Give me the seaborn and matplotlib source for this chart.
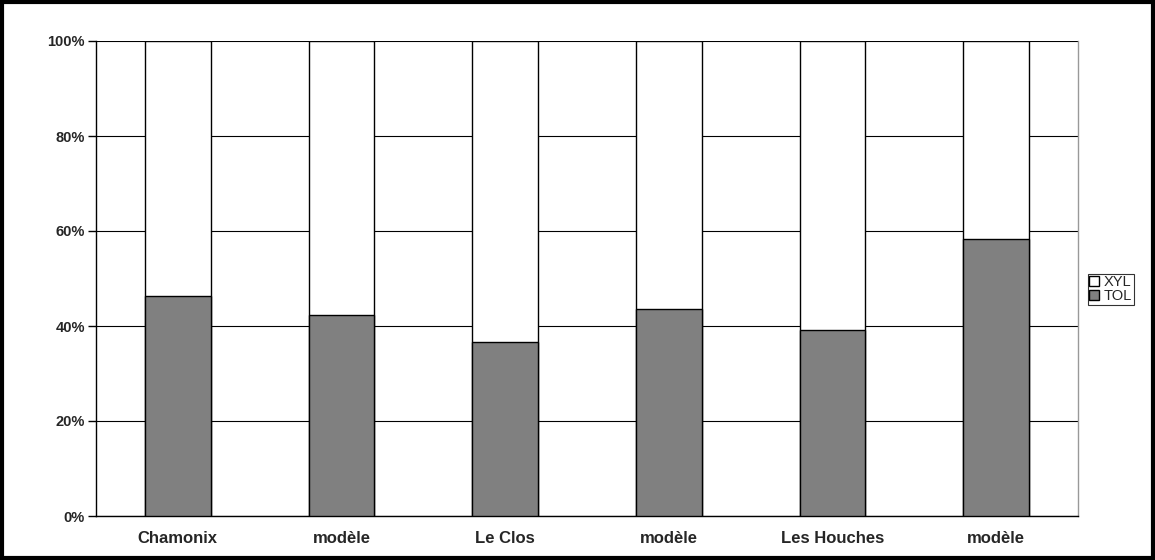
import matplotlib
matplotlib.use("Agg")
import matplotlib.pyplot as plt
import seaborn as sns
import pandas as pd
import numpy as np
from matplotlib.patches import Patch, Rectangle

categories = ["Chamonix", "modèle", "Le Clos", "modèle ", "Les Houches", "modèle  "]
tol = [46.3, 42.3, 36.7, 43.5, 39.2, 58.4]
xyl = [100 - v for v in tol]
ytick_labels = ["0%", "20%", "40%", "60%", "80%", "100%"]

sns.set_theme(style="white")
plt.rcParams['font.family'] = ['Liberation Sans', 'DejaVu Sans']

df = pd.DataFrame({"cat": categories, "TOL": tol, "XYL": xyl})
df["total"] = df["TOL"] + df["XYL"]

fig = plt.figure(figsize=(11.55, 5.6), dpi=100)
ax = fig.add_axes([96/1155, 1 - 516/560, (1078-96)/1155, (516-41)/560])

sns.barplot(data=df, x="cat", y="total", color="white", edgecolor="black",
            linewidth=1, width=0.4, saturation=1, ax=ax, zorder=3)
sns.barplot(data=df, x="cat", y="TOL", color="#808080", edgecolor="black",
            linewidth=1, width=0.4, saturation=1, ax=ax, zorder=4)

ax.set_xlim(-0.5, len(categories) - 0.5)
ax.set_ylim(0, 100)
ax.set_yticks(np.arange(0, 101, 20))
ax.set_yticklabels(ytick_labels, fontsize=10.5, fontweight="bold")
ax.set_xticks(range(len(categories)))
ax.set_xticklabels([c.strip() for c in categories], fontsize=12, fontweight="bold")
ax.set_xticks(np.arange(-0.5, len(categories)), minor=True)
ax.tick_params(axis="x", which="major", length=0, pad=11)
ax.tick_params(axis="x", which="minor", length=4, width=1, color="black", direction="out")
ax.tick_params(axis="y", which="major", length=6, width=1, color="black", direction="out", left=True, pad=2)
ax.set_xlabel("")
ax.set_ylabel("")
ax.yaxis.grid(True, color="black", linewidth=0.8, zorder=0)
ax.set_axisbelow(True)
ax.spines["top"].set_visible(False)
ax.spines["right"].set_color("#999999")
ax.spines["right"].set_linewidth(1)
ax.spines["left"].set_color("black")
ax.spines["bottom"].set_color("black")
ax.spines["left"].set_linewidth(1)
ax.spines["bottom"].set_linewidth(1)

handles = [Patch(facecolor="white", edgecolor="black", label="XYL"),
           Patch(facecolor="#808080", edgecolor="black", label="TOL")]
leg = fig.legend(handles=handles, loc="upper left", bbox_to_anchor=(1088/1155, 1 - 274/560),
                 frameon=True, fancybox=False, edgecolor="black", fontsize=10.5,
                 handlelength=0.65, handleheight=0.65, handletextpad=0.35,
                 borderpad=0.1, labelspacing=0.0, borderaxespad=0)
leg.get_frame().set_linewidth(0.8)

fig.patches.append(Rectangle((0.0015, 0.003), 0.997, 0.994, transform=fig.transFigure,
                             fill=False, edgecolor="black", linewidth=3))

fig.savefig("out.png", dpi=100)
